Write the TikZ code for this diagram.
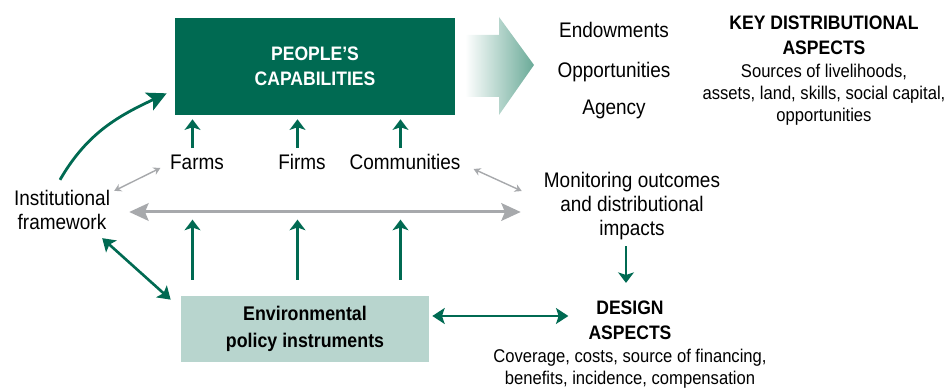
\documentclass[tikz,border=0pt]{standalone}
\usepackage{fontspec}
\setmainfont{Liberation Sans}[FakeStretch=0.9]
\usetikzlibrary{arrows.meta,calc,positioning}
\definecolor{capgreen}{HTML}{006A52}
\definecolor{envteal}{HTML}{B8D5CE}
\definecolor{arrowteal}{HTML}{6AAA98}
\definecolor{linkgray}{HTML}{A7A9AC}
\newcommand{\lblsize}{\fontsize{12}{13.9}\selectfont}
\newcommand{\descsize}{\fontsize{10.5}{12.5}\selectfont}
\newcommand{\headsize}{\fontsize{11.1}{14.2}\selectfont\bfseries}
\newcommand{\envsize}{\fontsize{11.25}{15.3}\selectfont\bfseries}

\begin{document}
\begin{tikzpicture}[x=0.02cm,y=0.02cm,
  lbl/.style={font=\lblsize,text height=8.5pt,text depth=2.5pt},
  lbllines/.style={font=\lblsize,align=center},
  garrow/.style={capgreen,line width=1.2pt,-{Stealth[length=6pt,width=9pt,inset=1.5pt]}},
  gboth/.style={capgreen,line width=1.5pt,{Stealth[length=7pt,width=9pt,inset=1.5pt]}-{Stealth[length=7pt,width=9pt,inset=1.5pt]}},
  gcurve/.style={capgreen,line width=1.6pt,-{Stealth[length=11pt,width=11pt,inset=2.5pt]}},
  graysmall/.style={linkgray,line width=0.8pt,{Stealth[length=4pt,width=4.5pt]}-{Stealth[length=4pt,width=4.5pt]}},
  graybig/.style={linkgray,line width=1.7pt,{Stealth[length=11pt,width=10pt,inset=2pt]}-{Stealth[length=11pt,width=10pt,inset=2pt]}}]
\useasboundingbox (0,0) rectangle (947,388);

\node[fill=capgreen,minimum width=5.6cm,minimum height=1.94cm,text=white,font=\headsize,align=center] (cap) at (315,321.5) {PEOPLE’S\\CAPABILITIES};
\shade[left color=white,right color=arrowteal] (465,353) -- (499,353) -- (499,371) -- (534,323) -- (499,273) -- (499,291) -- (465,291) -- cycle;

\node[lbl] (endow) at (614,356) {Endowments};
\node[lbl] (opport) at (614,316) {Opportunities};
\node[lbl] (agency) at (614,279) {Agency};

\node[font=\headsize,align=center] (keyhead) at (824,352.5) {KEY DISTRIBUTIONAL\\ASPECTS};
\node[font=\descsize,align=center] (keydesc) at (824,293) {Sources of livelihoods,\\assets, land, skills, social capital,\\opportunities};

\node[lbl] (farms) at (197,224) {Farms};
\node[lbl] (firms) at (302,224) {Firms};
\node[lbl] (comm) at (405,224) {Communities};
\node[lbllines] (inst) at (62,178) {Institutional\\framework};
\node[lbllines] (mon) at (632,182) {Monitoring outcomes\\and distributional\\impacts};

\node[fill=envteal,minimum width=4.96cm,minimum height=1.32cm,font=\envsize,align=center] (env) at (305,59) {Environmental\\policy instruments};
\node[font=\headsize,align=center] (design) at (630,67.5) {DESIGN\\ASPECTS};
\node[font=\descsize,align=center] (designdesc) at (630,19) {Coverage, costs, source of financing,\\benefits, incidence, compensation};

\foreach \n in {farms,firms,comm}
  \draw[garrow] ($(\n.north)+(-4.5,0)$) -- ($(\n.north |- cap.south)+(-4.5,-4)$);
\foreach \n in {farms,firms,comm}
  \draw[garrow] ($(\n.north |- env.north)+(-4.5,16)$) -- ($(\n.north |- env.north)+(-4.5,76)$);

\draw[gcurve] ($(inst.north)+(-2,4)$) to[out=60,in=205] ($(cap.south west)+(-8,22)$);
\draw[graysmall] ($(inst.north east)+(-2,-7)$) -- ($(farms.west)+(-3.5,-4)$);
\draw[graysmall] ($(comm.east)+(7,-5)$) -- ($(mon.west)+(-16,15)$);
\draw[graybig] ($(inst.east)+(13,-2)$) -- ($(inst.east -| mon.west)+(-17,-2)$);
\draw[gboth] ($(inst.south east)+(-14,-2)$) -- ($(env.north west)+(-10,-4)$);
\draw[gboth] ($(env.east)+(3,13)$) -- ($(env.east -| design.west)+(-14,13)$);
\draw[garrow] ($(mon.south)+(-6,0)$) -- ($(mon.south |- design.north)+(-6,12)$);
\end{tikzpicture}
\end{document}
